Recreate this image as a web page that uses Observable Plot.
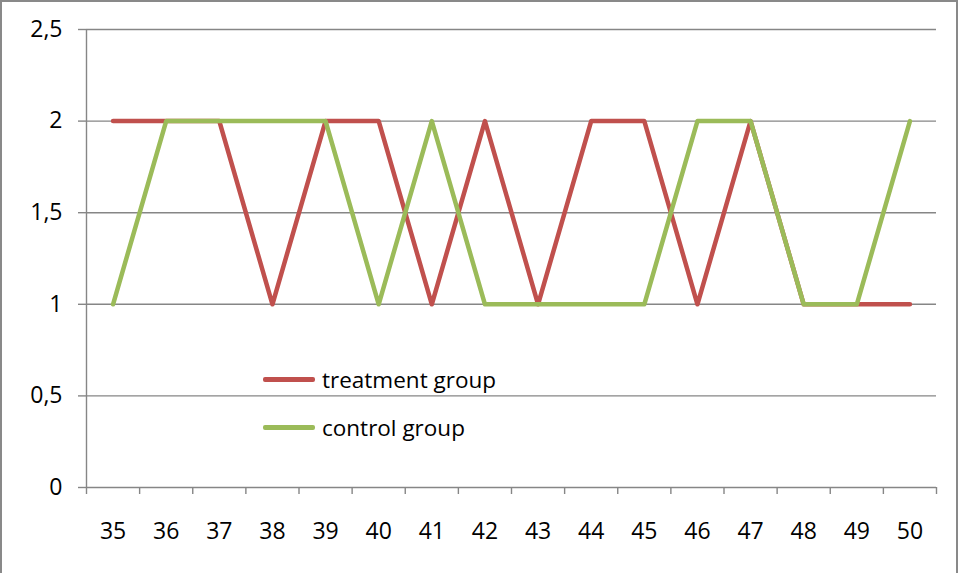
<!DOCTYPE html>
<html>
<head>
<meta charset="utf-8">
<script src="https://cdn.jsdelivr.net/npm/d3@7"></script>
<script src="https://cdn.jsdelivr.net/npm/@observablehq/plot@0.6"></script>
<style>
  html, body { margin: 0; padding: 0; background: #fff; overflow: hidden; }
  #wrap { position: relative; width: 960px; height: 573px; }
  #frame { position: absolute; left: 0; top: 0; width: 954px; height: 600px; border: 2px solid #898989; box-sizing: content-box; }
  #chart { position: absolute; left: 0; top: 0; }
  .leg { position: absolute; font-family: "Open Sans", sans-serif; font-size: 22.5px; color: #000; display: flex; align-items: center; }
  .leg span.sw { display: inline-block; width: 52px; height: 4.5px; border-radius: 2px; margin-right: 7px; }
</style>
</head>
<body>
<div id="wrap">
  <div id="frame"></div>
  <div id="chart"></div>
  <div class="leg" style="left:263px; top:364px;"><span class="sw" style="background:#C0504D"></span>treatment group</div>
  <div class="leg" style="left:263px; top:412px;"><span class="sw" style="background:#9BBB59"></span>control group</div>
</div>
<script>
const categories = [35, 36, 37, 38, 39, 40, 41, 42, 43, 44, 45, 46, 47, 48, 49, 50];
const treatment = [2, 2, 2, 1, 2, 2, 1, 2, 1, 2, 2, 1, 2, 1, 1, 1];
const control   = [1, 2, 2, 2, 2, 1, 2, 1, 1, 1, 1, 2, 2, 1, 1, 2];
const yTicks = [0, 0.5, 1, 1.5, 2, 2.5];
const seriesNames = ["treatment group", "control group"];
const seriesColors = ["#C0504D", "#9BBB59"];

const rows = [];
categories.forEach((c, i) => rows.push({x: c, y: treatment[i], s: seriesNames[0]}));
categories.forEach((c, i) => rows.push({x: c, y: control[i], s: seriesNames[1]}));

const boundaries = [...categories.map(c => c - 0.5), categories[categories.length - 1] + 0.5];
const gray = "#868686";
const fmt = d => String(d).replace(".", ",");

const chart = Plot.plot({
  width: 960,
  height: 573,
  marginLeft: 86,
  marginRight: 24,
  marginTop: 29,
  marginBottom: 86,
  style: {fontFamily: "'Open Sans', sans-serif", fontSize: "23px", background: "transparent", color: "#000"},
  x: {type: "linear", domain: [categories[0] - 0.5, categories[categories.length - 1] + 0.5]},
  y: {domain: [0, 2.5]},
  color: {domain: seriesNames, range: seriesColors},
  marks: [
    Plot.ruleY(yTicks, {stroke: gray, strokeWidth: 1.4}),
    Plot.ruleX([boundaries[0]], {stroke: gray, strokeWidth: 1.4}),
    Plot.axisY({ticks: yTicks, tickFormat: fmt, tickSize: 8, tickPadding: 16, stroke: gray, strokeWidth: 1.4, fill: "#000", fontSize: 23, label: null}),
    Plot.axisX({ticks: boundaries, tickFormat: () => "", tickSize: 7, stroke: gray, strokeWidth: 1.4, label: null}),
    Plot.axisX({ticks: categories, tickFormat: d => String(d), tickSize: 0, tickPadding: 35, fill: "#000", fontSize: 23, label: null}),
    Plot.line(rows, {x: "x", y: "y", z: "s", stroke: "s", strokeWidth: 4.5, strokeLinecap: "round", strokeLinejoin: "round"})
  ]
});
document.getElementById("chart").appendChild(chart);
</script>
</body>
</html>
